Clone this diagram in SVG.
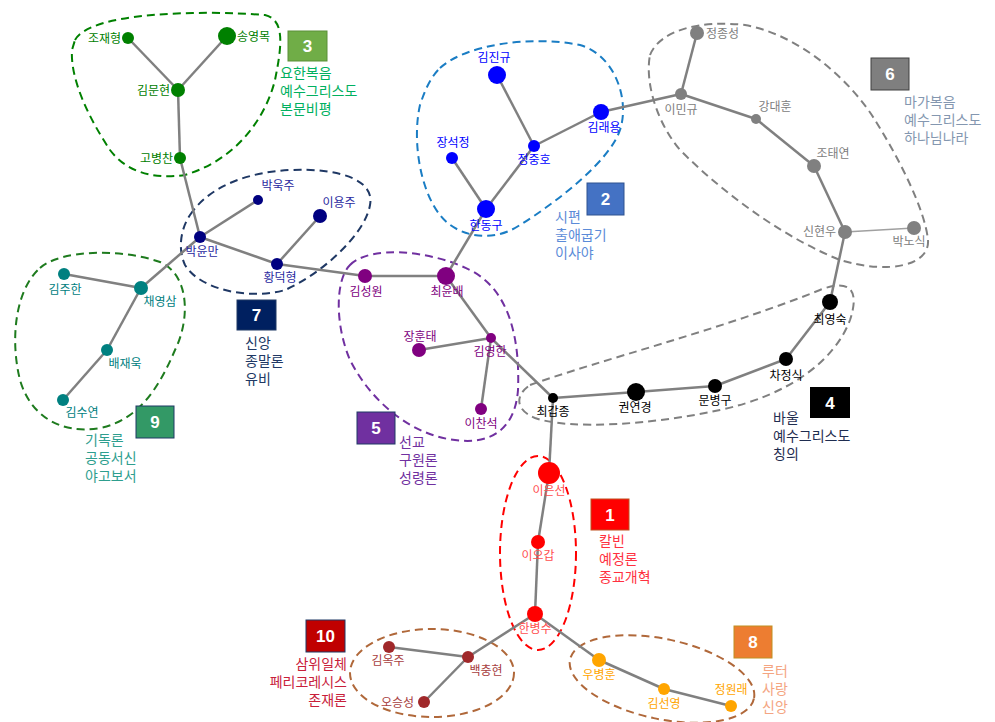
<svg xmlns="http://www.w3.org/2000/svg" width="995" height="722" viewBox="0 0 995 722">
<style>
text{font-family:"Liberation Sans","Noto Sans CJK KR",sans-serif}
.e{stroke:#808080;stroke-width:2.5;fill:none}
.blob{fill:none;stroke-width:2;stroke-dasharray:8 5}
.nl{font-size:12px}
.gl{font-size:14px}
.bx{font-size:17px;font-weight:bold;fill:#fff;text-anchor:middle}
.m{text-anchor:middle}
.r{text-anchor:end}
</style>
<rect width="995" height="722" fill="#fff"/>
<g id="blobs">
<path class="blob" stroke="#008000" d="M 75 40 C 90 12, 200 10, 265 15 C 285 20, 282 45, 275 80 C 265 120, 235 160, 185 175 C 150 180, 125 170, 110 150 C 90 120, 70 80, 72 50 Z"/>
<path class="blob" stroke="#1A7DC4" d="M 440 68 C 465 45, 530 35, 580 45 C 615 55, 630 100, 620 130 C 610 160, 560 200, 520 225 C 490 245, 455 235, 440 215 C 420 190, 412 140, 420 105 C 425 90, 430 78, 440 68 Z"/>
<path class="blob" stroke="#808080" d="M 650 55 C 660 30, 700 20, 745 25 C 800 35, 850 80, 875 120 C 900 160, 925 210, 928 240 C 930 265, 890 275, 840 260 C 790 240, 730 200, 680 150 C 655 120, 645 80, 650 55 Z"/>
<path class="blob" stroke="#1F3864" d="M 190 215 C 210 185, 250 172, 290 170 C 340 168, 375 180, 370 205 C 365 235, 320 275, 285 290 C 250 300, 200 290, 185 265 C 178 250, 180 230, 190 215 Z"/>
<path class="blob" stroke="#1E7B1E" d="M 40 268 C 60 250, 120 248, 160 262 C 190 275, 190 320, 175 350 C 160 385, 140 420, 100 428 C 60 435, 30 415, 20 380 C 10 340, 15 290, 40 268 Z"/>
<path class="blob" stroke="#7030A0" d="M 350 265 C 370 245, 430 250, 470 270 C 510 290, 520 340, 518 390 C 515 430, 490 445, 455 440 C 410 435, 370 400, 350 360 C 335 325, 335 280, 350 265 Z"/>
<path class="blob" stroke="#808080" d="M 530 385 C 600 360, 720 330, 820 290 C 850 278, 860 290, 850 320 C 835 360, 790 395, 720 410 C 650 425, 570 430, 535 418 C 515 410, 515 395, 530 385 Z"/>
<ellipse class="blob" stroke="#FF0000" cx="538" cy="553" rx="38" ry="97"/>
<ellipse class="blob" stroke="#B0683A" cx="432" cy="673" rx="82" ry="44"/>
<ellipse class="blob" stroke="#B0683A" cx="662" cy="679" rx="94" ry="40" transform="rotate(12 662 679)"/>
</g>
<g id="connectors">
<line class="e" x1="128" y1="38" x2="178" y2="90"/>
<line class="e" x1="227" y1="36" x2="178" y2="90"/>
<line class="e" x1="178" y1="90" x2="180" y2="158"/>
<line class="e" x1="180" y1="158" x2="200" y2="237"/>
<line class="e" x1="200" y1="237" x2="258" y2="200"/>
<line class="e" x1="200" y1="237" x2="277" y2="264"/>
<line class="e" x1="277" y1="264" x2="320" y2="216"/>
<line class="e" x1="200" y1="237" x2="141" y2="288"/>
<line class="e" x1="141" y1="288" x2="64" y2="274"/>
<line class="e" x1="141" y1="288" x2="107" y2="350"/>
<line class="e" x1="107" y1="350" x2="63" y2="400"/>
<line class="e" x1="277" y1="264" x2="365" y2="276"/>
<line class="e" x1="365" y1="276" x2="446" y2="276"/>
<line class="e" x1="446" y1="276" x2="486" y2="209"/>
<line class="e" x1="446" y1="276" x2="491" y2="338"/>
<line class="e" x1="491" y1="338" x2="419" y2="350"/>
<line class="e" x1="491" y1="338" x2="481" y2="409"/>
<line class="e" x1="491" y1="338" x2="553" y2="398"/>
<line class="e" x1="497" y1="75" x2="534" y2="146"/>
<line class="e" x1="534" y1="146" x2="601" y2="112"/>
<line class="e" x1="534" y1="146" x2="486" y2="209"/>
<line class="e" x1="452" y1="158" x2="486" y2="209"/>
<line class="e" x1="601" y1="112" x2="681" y2="94"/>
<line class="e" x1="681" y1="94" x2="697" y2="33"/>
<line class="e" x1="681" y1="94" x2="756" y2="119"/>
<line class="e" x1="756" y1="119" x2="814" y2="166"/>
<line class="e" x1="814" y1="166" x2="845" y2="232"/>
<line x1="845" y1="232" x2="914" y2="228" stroke="#a0a0a0" stroke-width="1.5"/>
<line class="e" x1="845" y1="232" x2="830" y2="302"/>
<line class="e" x1="830" y1="302" x2="786" y2="359"/>
<line class="e" x1="786" y1="359" x2="715" y2="386"/>
<line class="e" x1="715" y1="386" x2="636" y2="392"/>
<line class="e" x1="636" y1="392" x2="553" y2="398"/>
<line class="e" x1="553" y1="398" x2="549" y2="473"/>
<line class="e" x1="549" y1="473" x2="538" y2="542"/>
<line class="e" x1="538" y1="542" x2="535" y2="614"/>
<line class="e" x1="535" y1="614" x2="468" y2="657"/>
<line class="e" x1="468" y1="657" x2="389" y2="647"/>
<line class="e" x1="468" y1="657" x2="424" y2="702"/>
<line class="e" x1="535" y1="614" x2="599" y2="660"/>
<line class="e" x1="599" y1="660" x2="664" y2="689"/>
<line class="e" x1="664" y1="689" x2="731" y2="706"/>
</g>
<g id="n-조재형" fill="#008000"><circle cx="128" cy="38" r="6"/><text class="nl r" x="121" y="43">조재형</text></g>
<g id="n-송영목" fill="#008000"><circle cx="227" cy="36" r="9"/><text class="nl" x="237" y="41">송영목</text></g>
<g id="n-김문현" fill="#008000"><circle cx="178" cy="90" r="7"/><text class="nl r" x="170" y="95">김문현</text></g>
<g id="n-고병찬" fill="#008000"><circle cx="180" cy="158" r="6"/><text class="nl r" x="173" y="163">고병찬</text></g>
<g id="n-박윤만" fill="#000080"><circle cx="200" cy="237" r="6"/><text class="nl m" x="202" y="256" fill="#2A2AA0">박윤만</text></g>
<g id="n-박욱주" fill="#000080"><circle cx="258" cy="200" r="5"/><text class="nl m" x="278" y="190" fill="#2A2AA0">박욱주</text></g>
<g id="n-이용주" fill="#000080"><circle cx="320" cy="216" r="7"/><text class="nl m" x="339" y="207" fill="#2A2AA0">이용주</text></g>
<g id="n-황덕형" fill="#000080"><circle cx="277" cy="264" r="6"/><text class="nl m" x="280" y="282" fill="#2A2AA0">황덕형</text></g>
<g id="n-김주한" fill="#008080"><circle cx="64" cy="274" r="6"/><text class="nl m" x="65" y="294">김주한</text></g>
<g id="n-채영삼" fill="#008080"><circle cx="141" cy="288" r="7"/><text class="nl m" x="160" y="306">채영삼</text></g>
<g id="n-배재욱" fill="#008080"><circle cx="107" cy="350" r="6"/><text class="nl m" x="125" y="368">배재욱</text></g>
<g id="n-김수연" fill="#008080"><circle cx="63" cy="400" r="6"/><text class="nl m" x="82" y="417">김수연</text></g>
<g id="n-김성원" fill="#800080"><circle cx="365" cy="276" r="7"/><text class="nl m" x="366" y="296">김성원</text></g>
<g id="n-최윤배" fill="#800080"><circle cx="446" cy="276" r="9"/><text class="nl m" x="447" y="296">최윤배</text></g>
<g id="n-장훈태" fill="#800080"><circle cx="419" cy="350" r="7"/><text class="nl m" x="420" y="341">장훈태</text></g>
<g id="n-김영한" fill="#800080"><circle cx="491" cy="338" r="5"/><text class="nl m" x="490" y="356">김영한</text></g>
<g id="n-이찬석" fill="#800080"><circle cx="481" cy="409" r="6"/><text class="nl m" x="481" y="428">이찬석</text></g>
<g id="n-김진규" fill="#0000FF"><circle cx="497" cy="75" r="9"/><text class="nl m" x="494" y="62">김진규</text></g>
<g id="n-김래용" fill="#0000FF"><circle cx="601" cy="112" r="8"/><text class="nl m" x="604" y="132">김래용</text></g>
<g id="n-정중호" fill="#0000FF"><circle cx="534" cy="146" r="6"/><text class="nl m" x="534" y="164">정중호</text></g>
<g id="n-장석정" fill="#0000FF"><circle cx="452" cy="158" r="6"/><text class="nl m" x="453" y="147">장석정</text></g>
<g id="n-한동구" fill="#0000FF"><circle cx="486" cy="209" r="9"/><text class="nl m" x="486" y="230">한동구</text></g>
<g id="n-정종성" fill="#808080"><circle cx="697" cy="33" r="7"/><text class="nl" x="706" y="38">정종성</text></g>
<g id="n-이민규" fill="#808080"><circle cx="681" cy="94" r="6"/><text class="nl m" x="681" y="114">이민규</text></g>
<g id="n-강대훈" fill="#808080"><circle cx="756" cy="119" r="5"/><text class="nl m" x="775" y="111">강대훈</text></g>
<g id="n-조태연" fill="#808080"><circle cx="814" cy="166" r="7"/><text class="nl m" x="833" y="158">조태연</text></g>
<g id="n-신현우" fill="#808080"><circle cx="845" cy="232" r="7"/><text class="nl r" x="836" y="236">신현우</text></g>
<g id="n-박노식" fill="#808080"><circle cx="914" cy="228" r="7"/><text class="nl m" x="909" y="246">박노식</text></g>
<g id="n-최영숙" fill="#000"><circle cx="830" cy="302" r="8"/><text class="nl m" x="830" y="324">최영숙</text></g>
<g id="n-차정식" fill="#000"><circle cx="786" cy="359" r="7"/><text class="nl m" x="786" y="380">차정식</text></g>
<g id="n-문병구" fill="#000"><circle cx="715" cy="386" r="7"/><text class="nl m" x="715" y="405">문병구</text></g>
<g id="n-권연경" fill="#000"><circle cx="636" cy="392" r="9"/><text class="nl m" x="635" y="412">권연경</text></g>
<g id="n-최갑종" fill="#000"><circle cx="553" cy="398" r="5"/><text class="nl m" x="553" y="416">최갑종</text></g>
<g id="n-이은선" fill="#FF0000"><circle cx="549" cy="473" r="11"/><text class="nl m" x="549" y="495" fill="#FF5050">이은선</text></g>
<g id="n-이오갑" fill="#FF0000"><circle cx="538" cy="542" r="7"/><text class="nl m" x="538" y="560" fill="#FF5050">이오갑</text></g>
<g id="n-한병수" fill="#FF0000"><circle cx="535" cy="614" r="8"/><text class="nl m" x="535" y="633" fill="#FF5050">한병수</text></g>
<g id="n-김옥주" fill="#A0282A"><circle cx="389" cy="647" r="6"/><text class="nl m" x="388" y="665" fill="#A84040">김옥주</text></g>
<g id="n-백충현" fill="#A0282A"><circle cx="468" cy="657" r="6"/><text class="nl m" x="486" y="675" fill="#A84040">백충현</text></g>
<g id="n-오승성" fill="#A0282A"><circle cx="424" cy="702" r="6"/><text class="nl r" x="414" y="707" fill="#A84040">오승성</text></g>
<g id="n-우병훈" fill="#FFA500"><circle cx="599" cy="660" r="7"/><text class="nl m" x="599" y="679">우병훈</text></g>
<g id="n-김선영" fill="#FFA500"><circle cx="664" cy="689" r="6"/><text class="nl m" x="664" y="708">김선영</text></g>
<g id="n-정원래" fill="#FFA500"><circle cx="731" cy="706" r="6"/><text class="nl m" x="731" y="694">정원래</text></g>
<g id="g3"><rect x="288" y="31" width="39" height="30" fill="#70AD47" stroke="#5a8f38"/><text class="bx" x="307.5" y="52">3</text>
<text class="gl" fill="#00B060"><tspan x="280" y="78">요한복음</tspan><tspan x="280" y="96">예수그리스도</tspan><tspan x="280" y="114">본문비평</tspan></text></g>
<g id="g2"><rect x="587" y="183" width="37" height="32" fill="#4472C4" stroke="#2f528f"/><text class="bx" x="605.5" y="205">2</text>
<text class="gl" fill="#5B8BD8"><tspan x="555" y="222">시편</tspan><tspan x="555" y="240">출애굽기</tspan><tspan x="555" y="258">이사야</tspan></text></g>
<g id="g6"><rect x="871" y="58" width="38" height="32" fill="#7F7F7F" stroke="#404040"/><text class="bx" x="890" y="80">6</text>
<text class="gl" fill="#8497B0"><tspan x="904" y="107">마가복음</tspan><tspan x="904" y="125">예수그리스도</tspan><tspan x="904" y="143">하나님나라</tspan></text></g>
<g id="g7"><rect x="237" y="300" width="39" height="30" fill="#002060" stroke="#1F3864"/><text class="bx" x="256.5" y="321">7</text>
<text class="gl" fill="#203864"><tspan x="245" y="348">신앙</tspan><tspan x="245" y="366">종말론</tspan><tspan x="245" y="384">유비</tspan></text></g>
<g id="g9"><rect x="136" y="406" width="38" height="32" fill="#339966" stroke="#1F3864"/><text class="bx" x="155" y="428">9</text>
<text class="gl" fill="#2E9E8E"><tspan x="85" y="445">기독론</tspan><tspan x="85" y="463">공동서신</tspan><tspan x="85" y="481">야고보서</tspan></text></g>
<g id="g5"><rect x="357" y="412" width="38" height="32" fill="#7030A0" stroke="#1F3864"/><text class="bx" x="376" y="434">5</text>
<text class="gl" fill="#7030A0"><tspan x="399" y="447">선교</tspan><tspan x="399" y="465">구원론</tspan><tspan x="399" y="483">성령론</tspan></text></g>
<g id="g4"><rect x="810" y="387" width="40" height="31" fill="#000"/><text class="bx" x="830" y="409">4</text>
<text class="gl" fill="#1F2D50"><tspan x="773" y="423">바울</tspan><tspan x="773" y="441">예수그리스도</tspan><tspan x="773" y="459">칭의</tspan></text></g>
<g id="g1"><rect x="591" y="499" width="38" height="31" fill="#FF0000" stroke="#c05020"/><text class="bx" x="610" y="521">1</text>
<text class="gl" fill="#FF3040"><tspan x="599" y="546">칼빈</tspan><tspan x="599" y="564">예정론</tspan><tspan x="599" y="582">종교개혁</tspan></text></g>
<g id="g10"><rect x="306" y="620" width="39" height="32" fill="#C00000" stroke="#1F3864"/><text class="bx" x="325.5" y="642">10</text>
<text class="gl r" fill="#C8203A"><tspan x="347" y="669">삼위일체</tspan><tspan x="347" y="687">페리코레시스</tspan><tspan x="347" y="705">존재론</tspan></text></g>
<g id="g8"><rect x="734" y="626" width="38" height="32" fill="#ED7D31" stroke="#c09020"/><text class="bx" x="753" y="648">8</text>
<text class="gl" fill="#F4A582"><tspan x="762" y="676">루터</tspan><tspan x="762" y="694">사랑</tspan><tspan x="762" y="712">신앙</tspan></text></g>
</svg>
